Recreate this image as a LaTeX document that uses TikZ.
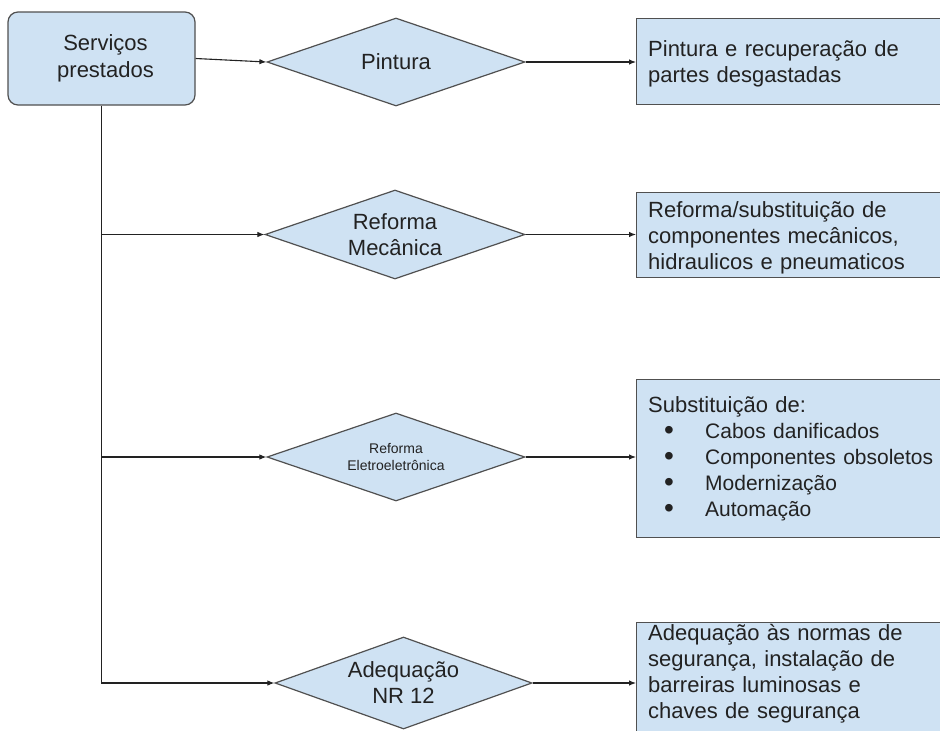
\documentclass[tikz,border=0pt]{standalone}
\usepackage{fontspec}
\setmainfont{Liberation Sans}
\usetikzlibrary{shapes.geometric,arrows.meta}
\definecolor{boxfill}{HTML}{CFE2F3}
\definecolor{edgegray}{HTML}{505050}
\definecolor{ink}{HTML}{222222}
\newcommand\bulitem[1]{\makebox[57pt][l]{\hspace{16pt}\raisebox{-1.5pt}{\fontsize{28}{26}\selectfont •}}{\fontsize{21}{26}\selectfont #1}}
\begin{document}
\begin{tikzpicture}[x=1pt,y=-1pt,
  rect/.style={draw=edgegray,fill=boxfill,line width=1.2pt,anchor=north west,inner sep=0pt,minimum width=330pt},
  dia/.style={diamond,draw=edgegray,fill=boxfill,line width=1.2pt,inner sep=0pt,shape aspect=3,text=ink,font=\fontsize{22}{26}\selectfont,align=center},
  txt/.style={anchor=base west,inner sep=0pt,text=ink,font=\fontsize{22}{26}\selectfont,align=left,text width=290pt},
  arr/.style={draw=ink,line width=1.1pt,-{Latex[length=7pt,width=5.5pt]}}]
\useasboundingbox (0,0) rectangle (940,731);
\clip (0,0) rectangle (940,731);
\fill[white] (0,0) rectangle (940,731);

% start box
\node[draw=edgegray,fill=boxfill,line width=1.2pt,rounded corners=10pt,minimum width=187pt,minimum height=93pt,inner sep=0pt,text=ink,font=\fontsize{22}{27}\selectfont,align=center] (serv) at (101.5,58.5) {\hspace*{8pt}Serviços\\\hspace*{8pt}prestados};

% diamonds
\node[dia,minimum width=258pt,minimum height=88pt] (d1) at (396,62) {Pintura};
\node[dia,minimum width=260pt,minimum height=89pt] (d2) at (395,234.5) {Reforma\\Mecânica};
\node[dia,minimum width=258pt,minimum height=88pt,font=\fontsize{14}{17}\selectfont] (d3) at (396,457) {Reforma\\Eletroeletrônica};
\node[dia,minimum width=257pt,minimum height=92pt] (d4) at (403.5,683) {Adequação\\NR 12};

% result boxes
\node[rect,minimum height=86pt] (b1) at (636,18) {};
\node[rect,minimum height=85pt] (b2) at (636,192) {};
\node[rect,minimum height=158pt] (b3) at (636,379) {};
\node[rect,minimum height=122pt] (b4) at (636,622) {};

% texts in result boxes
\node[txt] (t1) at (648,56) {Pintura e recuperação de\\partes desgastadas};
\node[txt] (t2) at (648,217) {Reforma/substituição de\\componentes mecânicos,\\hidraulicos e pneumaticos};
\node[txt] (t3) at (648,412) {Substituição de:\\\bulitem{Cabos danificados}\\\bulitem{Componentes obsoletos}\\\bulitem{Modernização}\\\bulitem{Automação}};
\node[txt] (t4) at (648,640) {Adequação às normas de\\segurança, instalação de\\barreiras luminosas e\\chaves de segurança};

% connectors
\draw[arr] (serv.east) -- (d1.west);
\draw[arr] (serv.south) |- (d4.west);
\draw[arr] (serv.south |- d2.west) -- (d2.west);
\draw[arr] (serv.south |- d3.west) -- (d3.west);
\draw[arr] (d1.east) -- (b1.west |- d1.east);
\draw[arr] (d2.east) -- (b2.west |- d2.east);
\draw[arr] (d3.east) -- (b3.west |- d3.east);
\draw[arr] (d4.east) -- (b4.west |- d4.east);
\end{tikzpicture}
\end{document}
